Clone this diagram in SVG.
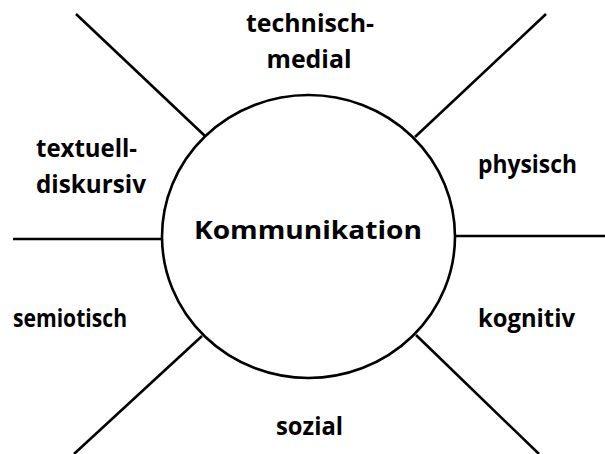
<svg xmlns="http://www.w3.org/2000/svg" width="605" height="454" viewBox="0 0 605 454">
<style>
.ln{stroke:#000;stroke-width:2.6;fill:none;stroke-linecap:butt}
.t{font-family:"Open Sans","Liberation Sans",sans-serif;font-weight:bold;font-size:25px;fill:#000}
.c{text-anchor:middle}
</style>
<rect width="605" height="454" fill="#fff"/>
<g id="connectors">
<line class="ln" x1="76" y1="14" x2="205" y2="136"/>
<line class="ln" x1="546" y1="14" x2="415" y2="137"/>
<line class="ln" x1="13" y1="239" x2="162" y2="239"/>
<line class="ln" x1="455" y1="236" x2="605" y2="236"/>
<line class="ln" x1="74" y1="454" x2="202" y2="336"/>
<line class="ln" x1="539" y1="454" x2="416" y2="335"/>
</g>
<g id="kommunikation">
<ellipse class="ln" cx="308.5" cy="236.5" rx="146.5" ry="141.5" fill="#fff"/>
<text class="t c" x="308" y="239" font-size="26" textLength="228" lengthAdjust="spacingAndGlyphs">Kommunikation</text>
</g>
<g id="technisch-medial">
<text class="t c" x="310" y="32" textLength="128" lengthAdjust="spacingAndGlyphs">technisch-</text>
<text class="t c" x="309" y="68" textLength="85" lengthAdjust="spacingAndGlyphs">medial</text>
</g>
<g id="textuell-diskursiv">
<text class="t" x="36" y="157" textLength="101" lengthAdjust="spacingAndGlyphs">textuell-</text>
<text class="t" x="36" y="193" textLength="110" lengthAdjust="spacingAndGlyphs">diskursiv</text>
</g>
<g id="physisch">
<text class="t" x="478" y="173" textLength="99" lengthAdjust="spacingAndGlyphs">physisch</text>
</g>
<g id="semiotisch">
<text class="t" x="13" y="327" textLength="114" lengthAdjust="spacingAndGlyphs">semiotisch</text>
</g>
<g id="kognitiv">
<text class="t" x="478" y="327" textLength="97" lengthAdjust="spacingAndGlyphs">kognitiv</text>
</g>
<g id="sozial">
<text class="t c" x="309.5" y="435" textLength="67" lengthAdjust="spacingAndGlyphs">sozial</text>
</g>
</svg>
